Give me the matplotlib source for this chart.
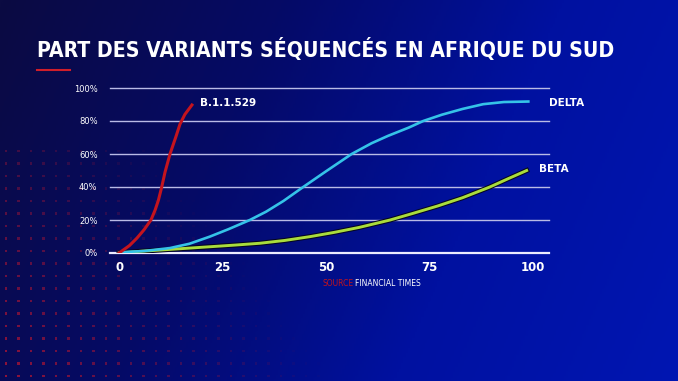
import numpy as np
import matplotlib.pyplot as plt
import matplotlib.patheffects as pe
from matplotlib.colors import LinearSegmentedColormap

# values (x in days, y in %)
omicron_x = [0, 1, 2.5, 4.3, 6, 7.7, 8.7, 9.5, 10.3, 11.1, 12.3, 13.8, 14.7, 15.9, 17.6]
omicron_y = [0, 1.8, 4.5, 9, 14, 20, 26, 32, 40, 49, 60, 71, 78, 84, 89.7]

delta_x = [0, 1.5, 6, 12.3, 17, 21.9, 26.5, 31.6, 35.5, 39.7, 44.5, 50, 56.2,
           61, 65, 70, 73.5, 78, 83, 88, 93, 98.9]
delta_y = [0, 0.6, 1.2, 3.0, 5.6, 9.9, 14.5, 20, 25, 31.5, 40, 49.5, 60,
           66.5, 71, 76, 80, 83.8, 87.3, 90.2, 91.5, 91.8]

beta_x = [0, 5, 9.9, 16, 22, 28, 34, 40, 46.1, 52, 58, 65.5, 71, 77, 83, 89.6, 94, 98.5]
beta_y = [0, 1, 1.8, 2.8, 3.8, 4.8, 5.9, 7.6, 9.9, 12.5, 15.5, 20, 24, 28.5, 33.5, 40, 45, 50]

yticks = [0, 20, 40, 60, 80, 100]
xticks = [0, 25, 50, 75, 100]

W, H = 678, 381
fig = plt.figure(figsize=(6.78, 3.81), dpi=100)

# background: gradient + faded red dot grid (pixel coordinates)
bg = fig.add_axes([0, 0, 1, 1])
cmap = LinearSegmentedColormap.from_list("bg", ["#0b0b42", "#050a66", "#0011a0", "#0016b2"])
gx = np.linspace(0, 1, 300)
gy = np.linspace(0, 1, 200)
G = gx[None, :] * 0.8 + gy[:, None] * 0.2
bg.imshow(G, cmap=cmap, aspect="auto", extent=[0, W, H, 0], origin="upper")
px, py = np.meshgrid(np.arange(6, 360, 12.5), np.arange(376, 150, -12.5))
d = px / 340 + (H - py) / 450
a = np.clip(1 - d, 0, 1) ** 1.1 * 0.95
sc = bg.scatter(px.ravel(), py.ravel(), s=4.5, marker="s", color="#9c1438", linewidths=0)
sc.set_alpha(np.clip(a.ravel(), 0, 1))
bg.set_xlim(0, W)
bg.set_ylim(H, 0)
bg.axis("off")
bg.plot([37, 70], [70, 70], color="#d01e2a", lw=1.5)

ax = fig.add_axes([110 / W, 1 - 253 / H, (549 - 110) / W, (253 - 88) / H])
ax.patch.set_alpha(0)
ax.set_xlim(-2.2, 103.9)
ax.set_ylim(0, 100)

for v in yticks:
    ax.axhline(v, color="#ececff" if v == 0 else "#b9bbe6", lw=1.6 if v == 0 else 1.0,
               zorder=1, clip_on=False)

edge = [pe.Stroke(linewidth=3.6, foreground="#050520"), pe.Normal()]
ax.plot(beta_x, beta_y, color="#a9dc3c", lw=2.1, zorder=3, path_effects=edge,
        solid_joinstyle="round")
ax.plot(delta_x, delta_y, color="#35c3e8", lw=1.9, zorder=4, solid_joinstyle="round")
ax.plot(omicron_x, omicron_y, color="#c4141e", lw=2.2, zorder=5, solid_joinstyle="round")

for s in ax.spines.values():
    s.set_visible(False)
ax.set_yticks(yticks)
ax.set_yticklabels([f"{v}%" for v in yticks])
ax.set_xticks(xticks)
ax.set_xticklabels([str(v) for v in xticks])
ax.tick_params(axis="y", length=0, pad=9, labelsize=6, labelcolor="white")
ax.tick_params(axis="x", length=0, pad=6, labelsize=8.5, labelcolor="white")
for t in ax.get_xticklabels():
    t.set_fontweight("bold")

ax.text(19.5, 91, "B.1.1.529", color="white", fontsize=7.5, fontweight="bold", va="center")
ax.text(103.9, 91, "DELTA", color="white", fontsize=7.5, fontweight="bold", va="center")
ax.text(101.5, 51, "BETA", color="white", fontsize=7.5, fontweight="bold", va="center")

fig.text(37 / W, 1 - 50 / H, "PART DES VARIANTS SÉQUENCÉS EN AFRIQUE DU SUD",
         color="white", fontsize=15.2, fontweight="bold", fontstretch="condensed",
         family="DejaVu Sans", va="center", ha="left")

fig.text(354 / W, 1 - 284 / H, "SOURCE", color="#c0141e", fontsize=5.5,
         ha="right", va="center")
fig.text(355 / W, 1 - 284 / H, "FINANCIAL TIMES", color="white", fontsize=5.5,
         ha="left", va="center")

fig.savefig("out.png", dpi=100)
